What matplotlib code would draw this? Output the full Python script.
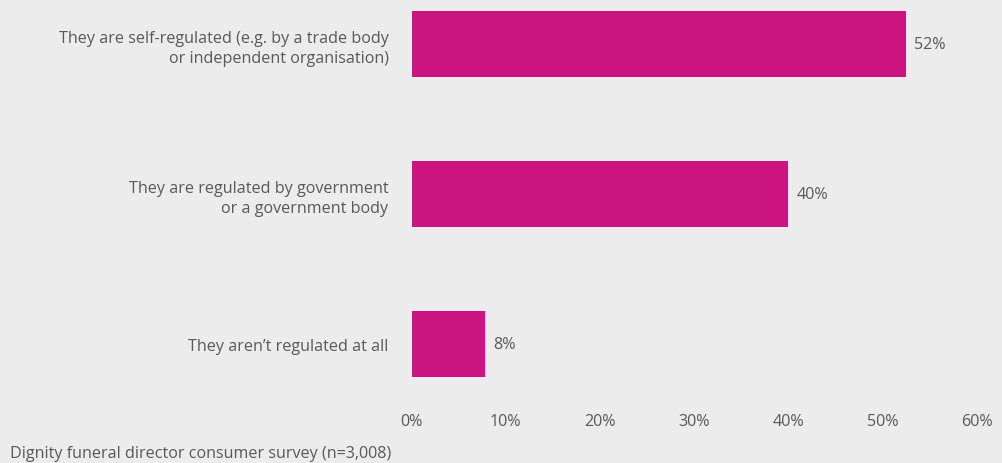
import matplotlib
matplotlib.use("Agg")
import matplotlib.pyplot as plt
from matplotlib.ticker import FuncFormatter

categories = [
    "They are self-regulated (e.g. by a trade body\nor independent organisation)",
    "They are regulated by government\nor a government body",
    "They aren\u2019t regulated at all",
]
values = [0.525, 0.40, 0.078]
value_labels = ["52%", "40%", "8%"]
xticks = [0, 0.1, 0.2, 0.3, 0.4, 0.5, 0.6]
source = "Dignity funeral director consumer survey (n=3,008)"

bg = "#ececec"
bar_color = "#cc1480"
text_color = "#595959"

plt.rcParams['font.family'] = ['Open Sans', 'DejaVu Sans']
FS = 11.6

W, H = 1002, 464
fig = plt.figure(figsize=(W / 100, H / 100), dpi=100, facecolor=bg)
left = 411.5 / W
right = (411.5 + 0.6 * 942) / W
top_px, bot_px = 0, 400
ax = fig.add_axes([left, 1 - bot_px / H, right - left, (bot_px - top_px) / H])
ax.set_facecolor(bg)

y = list(range(len(categories)))
ax.barh(y, values, height=0.44, color=bar_color)
ax.set_xlim(0, 0.6)
ax.set_ylim((bot_px - 44.8) / 150, (top_px - 44.8) / 150)

for yi, v, lab in zip(y, values, value_labels):
    ax.annotate(lab, (v, yi), xytext=(6, 0), textcoords="offset points",
                ha="left", va="center", fontsize=FS, color=text_color)

ax.set_yticks(y)
ax.set_yticklabels(categories, fontsize=FS, color=text_color, linespacing=1.35)
ax.set_xticks(xticks)
ax.xaxis.set_major_formatter(FuncFormatter(lambda v, p: f"{v*100:.0f}%"))
ax.tick_params(axis="x", length=0, pad=10, labelsize=FS, labelcolor=text_color)
ax.tick_params(axis="y", length=0, pad=16.5)
for s in ax.spines.values():
    s.set_visible(False)

fig.text(10 / W, 1 - 454 / H, source, ha="left", va="center", fontsize=FS, color=text_color)

fig.savefig("out.png", dpi=100, facecolor=bg)
